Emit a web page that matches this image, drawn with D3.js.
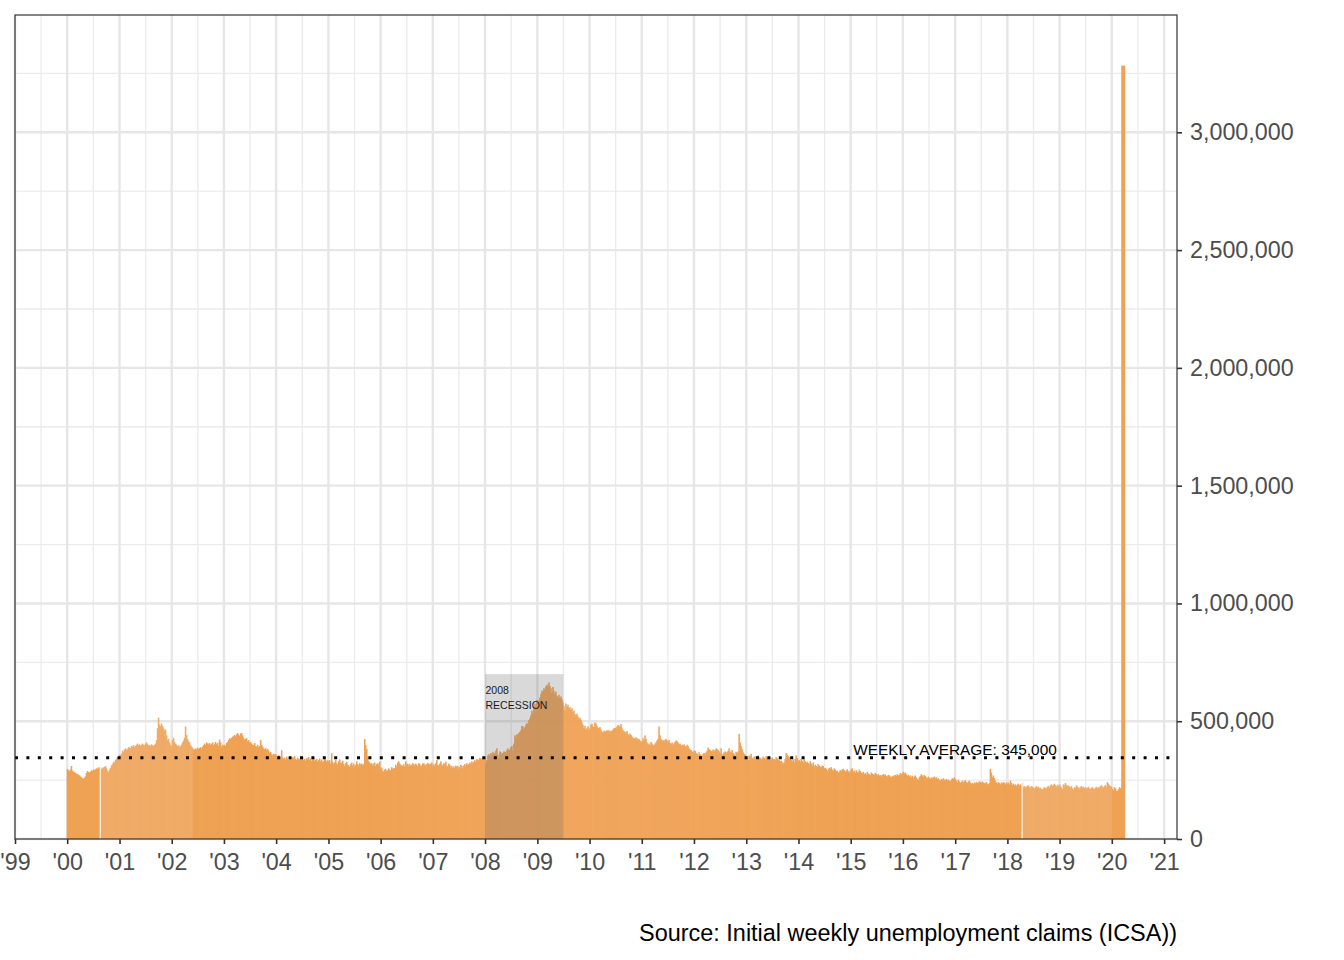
<!DOCTYPE html>
<html>
<head>
<meta charset="utf-8">
<script src="https://cdn.jsdelivr.net/npm/d3@7"></script>
<style>
  html, body { margin: 0; padding: 0; background: #ffffff; }
  svg { display: block; font-family: "Liberation Sans", Arial, Helvetica, sans-serif; }
</style>
</head>
<body>
<svg id="chart" width="1344" height="960"></svg>
<script>
// ---------------- DATA (initial weekly claims, thousands, week ending Saturday) ----------------
const firstWeek = "2000-01-01";
const claims2000 = [297,292,288,295,310,290,286,284,280,278,276,272,270,265,262,258,255,260,266,280,289,284,282,286,292,288,295,293,296,300,298,304,302,306,298,300,304,306,310,300,290,286,295,302,312,318,328,324,335,340,348,345,358];
const claims2001 = [355,362,375,370,380,385,378,382,390,388,385,395,392,398,390,395,400,405,398,402,395,400,405,400,398,405,410,402,398,400,395,402,398,395,400,405,420,470,515,485,478,490,480,470,460,465,440,420,425,410,400,395];
const claims2002 = [420,430,412,405,400,395,398,390,395,400,410,418,430,478,442,425,415,410,400,392,388,382,378,385,380,388,382,386,390,384,392,398,405,400,410,406,402,408,400,404,410,398,405,412,402,408,395,422,410,392,400,396];
const claims2003 = [400,395,408,412,420,428,425,430,434,438,441,436,445,450,442,438,448,450,440,430,422,425,428,415,420,410,412,405,400,398,408,395,392,400,390,395,420,400,392,385,380,386,378,382,375,365,370,360,356,362,358,360];
const claims2004 = [352,345,356,348,350,377,345,340,345,338,350,342,335,340,345,338,348,344,352,340,335,345,340,338,346,342,350,336,340,332,344,338,348,335,342,330,338,345,332,336,340,328,335,342,330,338,326,332,340,336,328,334];
const claims2005 = [330,335,320,365,328,318,325,335,322,315,330,338,322,325,332,318,310,322,328,315,312,305,318,325,312,320,308,315,330,318,312,322,316,320,312,318,424,398,382,350,330,325,318,322,312,320,325,310,318,322,315,328,305];
const claims2006 = [300,290,285,295,298,288,292,300,295,290,305,298,300,302,315,308,325,330,320,315,312,310,318,308,330,315,320,312,318,310,315,322,318,312,320,315,310,322,318,310,312,320,322,316,312,318,322,320,315,320,325,310];
const claims2007 = [318,310,322,335,315,312,320,330,316,310,322,318,328,312,308,320,315,305,310,300,308,302,312,306,310,298,305,315,310,302,312,318,310,322,315,318,325,318,330,322,328,335,328,340,335,338,345,340,342,350,345,348];
const claims2008 = [322,335,355,360,352,365,358,370,360,365,375,385,358,345,372,368,360,365,372,370,368,378,385,376,380,390,395,375,405,440,432,445,442,450,455,462,480,478,470,475,485,492,488,505,512,525,545,535,560,575,565,590];
const claims2009 = [590,575,600,615,630,625,640,635,648,655,650,665,650,640,620,645,630,615,625,608,600,612,598,605,595,580,565,545,575,560,570,555,560,548,555,540,545,530,525,532,520,510,515,505,495,485,470,480,465,470,478,460];
const claims2010 = [470,485,490,478,475,495,490,480,472,470,475,465,455,452,460,455,458,462,458,462,455,460,458,465,470,472,468,478,484,476,480,488,470,462,458,455,450,458,445,440,448,442,435,430,428,425,432,428,420,425,418,412];
const claims2011 = [415,428,420,440,425,410,400,405,398,412,405,400,395,405,410,418,425,478,440,425,418,420,415,422,425,418,412,420,408,402,410,400,405,412,418,415,410,402,405,398,400,395,402,395,390,400,395,385,380,378,372,368,375];
const claims2012 = [375,365,362,355,368,360,355,352,362,365,358,368,375,388,382,378,372,375,380,372,378,385,382,378,372,365,385,355,362,368,372,365,370,375,385,372,368,378,365,362,345,370,365,372,446,410,395,382,368,362,358,352];
const claims2013 = [345,335,355,350,362,345,340,348,352,336,340,355,348,345,338,342,350,345,340,352,346,340,348,335,342,345,338,340,335,348,342,338,335,330,332,326,320,325,340,365,358,352,348,340,335,330,338,325,340,355,345,332];
const claims2014 = [335,328,340,332,325,338,330,325,328,322,318,330,320,312,325,308,315,310,305,318,312,308,305,312,310,300,302,298,288,295,302,298,305,295,290,300,295,288,290,282,285,292,288,295,298,292,285,290,296,288,282,290];
const claims2015 = [295,300,285,290,280,292,285,282,295,288,282,278,285,275,280,272,285,278,275,270,282,278,275,272,280,276,270,275,268,272,265,272,276,270,275,268,265,272,270,265,262,268,265,270,272,268,275,270,272,280,275,278];
const claims2016 = [285,278,282,275,268,272,265,270,262,268,258,265,270,262,255,250,262,268,275,270,265,272,268,262,258,265,260,255,262,258,262,265,258,262,255,258,252,248,255,250,258,252,248,255,250,252,248,245,252,258,255,262,255];
const claims2017 = [248,240,252,245,238,242,248,240,245,250,242,238,244,248,240,235,238,232,240,236,242,238,240,245,242,238,244,240,236,238,242,235,232,238,298,282,262,270,258,248,240,235,242,238,232,240,236,242,238,232,240,235];
const claims2018 = [240,232,248,238,230,235,228,232,225,230,235,228,232,222,236,220,225,218,222,225,228,220,218,225,222,218,215,220,225,218,222,215,218,212,210,215,220,218,215,222,225,218,228,232,225,230,235,228,222,230,225,232];
const claims2019 = [225,218,212,232,228,238,230,225,228,222,218,225,215,210,220,218,228,222,218,215,220,225,218,222,216,220,215,218,222,215,212,218,220,215,212,218,222,215,220,218,225,228,222,218,225,230,222,242,235,228,225,222];
const claims2020 = [214,207,220,215,204,205,211,220,216,211,282,3283];

const xTickLabels = ["'99","'00","'01","'02","'03","'04","'05","'06","'07","'08","'09","'10","'11","'12","'13","'14","'15","'16","'17","'18","'19","'20","'21"];
const xTickYears  = [1999,2000,2001,2002,2003,2004,2005,2006,2007,2008,2009,2010,2011,2012,2013,2014,2015,2016,2017,2018,2019,2020,2021];
const yTickValues = [0, 500000, 1000000, 1500000, 2000000, 2500000, 3000000];
const yMinorValues = [250000, 750000, 1250000, 1750000, 2250000, 2750000, 3250000];

const weeklyAverage = 345000;
const weeklyAverageLabel = "WEEKLY AVERAGE: 345,000";
const recessionStart = "2008-01-01";
const recessionEnd = "2009-07-01";
const recessionTop = 700000;
const recessionLabel = ["2008", "RECESSION"];
const lighterSpans = [["2000-08-19", "2002-05-25"], ["2018-04-14", "2019-12-28"]];
const seamWeeks = ["2000-08-19", "2018-04-14"];
const caption = "Source: Initial weekly unemployment claims (ICSA))";

// ---------------- BUILD ----------------
const parse = d3.utcParse("%Y-%m-%d");
const allK = [].concat(claims2000, claims2001, claims2002, claims2003, claims2004, claims2005, claims2006,
  claims2007, claims2008, claims2009, claims2010, claims2011, claims2012, claims2013, claims2014,
  claims2015, claims2016, claims2017, claims2018, claims2019, claims2020);
const start = parse(firstWeek);
const data = allK.map((v, i) => ({ date: d3.utcDay.offset(start, 7 * i), value: v * 1000 }));

const L = 15, R = 1177, T = 15, B = 839;
const x = d3.scaleUtc().domain([new Date(Date.UTC(1999, 0, 1)), new Date(Date.UTC(2021, 3, 1))]).range([L, R]);
const y = d3.scaleLinear().domain([0, 3498000]).range([B, T]);

const svg = d3.select("#chart");
svg.append("rect").attr("width", 1344).attr("height", 960).attr("fill", "#ffffff");

const grid = svg.append("g");
const majorDates = xTickYears.map(yr => new Date(Date.UTC(yr, 0, 1)));
const minorDates = d3.pairs(majorDates).map(([a, b]) => new Date((+a + +b) / 2));
grid.selectAll(".vminor").data(minorDates).join("line")
  .attr("x1", d => x(d)).attr("x2", d => x(d)).attr("y1", T).attr("y2", B)
  .attr("stroke", "#ebebeb").attr("stroke-width", 1.3);
grid.selectAll(".hminor").data(yMinorValues.filter(v => v < y.domain()[1])).join("line")
  .attr("x1", L).attr("x2", R).attr("y1", d => y(d)).attr("y2", d => y(d))
  .attr("stroke", "#ebebeb").attr("stroke-width", 1.3);
grid.selectAll(".vmajor").data(majorDates).join("line")
  .attr("x1", d => x(d)).attr("x2", d => x(d)).attr("y1", T).attr("y2", B)
  .attr("stroke", "#e6e6e6").attr("stroke-width", 2.4);
grid.selectAll(".hmajor").data(yTickValues).join("line")
  .attr("x1", L).attr("x2", R).attr("y1", d => y(d)).attr("y2", d => y(d))
  .attr("stroke", "#e6e6e6").attr("stroke-width", 2.4);

// bars
const spans = lighterSpans.map(s => [parse(s[0]), parse(s[1])]);
const seams = new Set(seamWeeks.map(s => +parse(s)));
const isLight = d => spans.some(([a, b]) => d.date >= a && d.date <= b);
const last = data[data.length - 1];
const bars = svg.append("g");
bars.selectAll("rect").data(data).join("rect")
  .attr("x", d => d === last ? x(d.date) - 2 : x(d3.utcHour.offset(d.date, -84)))
  .attr("width", d => d === last ? 4 : x(d3.utcHour.offset(d.date, 84)) - x(d3.utcHour.offset(d.date, -84)) + 0.55)
  .attr("y", d => y(d.value))
  .attr("height", d => y(0) - y(d.value))
  .attr("fill", d => isLight(d) ? "#f0ab68" : "#efa254");
// thin white seams as in the reference rendering
bars.selectAll("line.seam").data(data.filter(d => seams.has(+d.date))).join("line")
  .attr("x1", d => x(d.date)).attr("x2", d => x(d.date))
  .attr("y1", d => y(d.value)).attr("y2", B)
  .attr("stroke", "#ffffff").attr("stroke-width", 1);

// recession shading
const rx0 = x(parse(recessionStart)), rx1 = x(parse(recessionEnd));
svg.append("rect").attr("x", rx0).attr("width", rx1 - rx0)
  .attr("y", y(recessionTop)).attr("height", y(0) - y(recessionTop))
  .attr("fill", "#666666").attr("fill-opacity", 0.25);
svg.append("g").selectAll("text").data(recessionLabel).join("text")
  .attr("x", rx0 + 0.5).attr("y", (d, i) => y(recessionTop) + 20 + i * 15)
  .attr("font-size", 10.5).attr("fill", "#1a1a1a").text(d => d);

// weekly average
svg.append("line").attr("x1", L).attr("x2", R)
  .attr("y1", y(weeklyAverage)).attr("y2", y(weeklyAverage))
  .attr("stroke", "#000").attr("stroke-width", 3).attr("stroke-dasharray", "3 8.4");
svg.append("text").attr("x", x(parse("2015-01-01")) + 2.5).attr("y", y(weeklyAverage) - 2.5)
  .attr("font-size", 15.4).attr("fill", "#000").text(weeklyAverageLabel);

// panel border
svg.append("rect").attr("x", L).attr("y", T).attr("width", R - L).attr("height", B - T)
  .attr("fill", "none").attr("stroke", "#333333").attr("stroke-width", 1.2);

// x axis
const xAxis = svg.append("g").attr("transform", `translate(0,${B})`)
  .call(d3.axisBottom(x).tickValues(majorDates).tickSize(5).tickPadding(9)
    .tickFormat((d, i) => xTickLabels[i]));
xAxis.select(".domain").remove();
xAxis.selectAll(".tick line").attr("stroke", "#333333").attr("stroke-width", 1.6);
xAxis.selectAll(".tick text").attr("font-size", 23.3).attr("fill", "#4d4d4d")
  .attr("font-family", "Liberation Sans, Arial, sans-serif");

// y axis (right)
const yAxis = svg.append("g").attr("transform", `translate(${R},0)`)
  .call(d3.axisRight(y).tickValues(yTickValues).tickSize(5).tickPadding(8)
    .tickFormat(d3.format(",")));
yAxis.select(".domain").remove();
yAxis.selectAll(".tick line").attr("stroke", "#333333").attr("stroke-width", 1.6);
yAxis.selectAll(".tick text").attr("font-size", 23.3).attr("fill", "#4d4d4d")
  .attr("font-family", "Liberation Sans, Arial, sans-serif");

// caption
svg.append("text").attr("x", R).attr("y", 941).attr("text-anchor", "end")
  .attr("font-size", 23.45).attr("fill", "#000").text(caption);
</script>
</body>
</html>
